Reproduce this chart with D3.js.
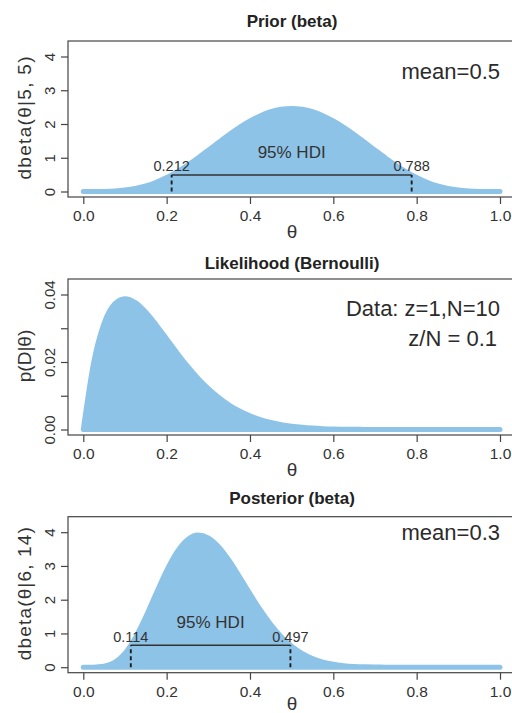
<!DOCTYPE html>
<html><head><meta charset="utf-8">
<script src="https://cdn.jsdelivr.net/npm/d3@7"></script>
<style>
body{margin:0;background:#fff;}
svg{display:block;font-family:"Liberation Sans",Arial,Helvetica,sans-serif;}
</style>
</head><body>
<svg id="chart" width="512" height="713"></svg>
<script>
// ---------------- data ----------------
const theta = [0,0.025,0.05,0.075,0.1,0.125,0.15,0.175,0.2,0.225,0.25,0.275,0.3,0.325,0.35,0.375,0.4,0.425,0.45,0.475,0.5,
  0.525,0.55,0.575,0.6,0.625,0.65,0.675,0.7,0.725,0.75,0.775,0.8,0.825,0.85,0.875,0.9,0.925,0.95,0.975,1];
const priorDensity = [0,0.0002,0.0032,0.0146,0.0413,0.0902,0.1665,0.2737,0.4129,0.5825,0.7787,0.9954,1.2252,1.4591,1.6876,1.9010,2.0902,2.2468,2.3640,2.4364,2.4609,
  2.4364,2.3640,2.2468,2.0902,1.9010,1.6876,1.4591,1.2252,0.9954,0.7787,0.5825,0.4129,0.2737,0.1665,0.0902,0.0413,0.0146,0.0032,0.0002,0];
const likelihood = [0,0.01991,0.03151,0.03718,0.03874,0.03758,0.03474,0.03098,0.02684,0.02269,0.01877,0.01522,0.01211,0.00946,0.00725,0.00546,0.00403,0.00292,0.00207,0.00144,0.00098,
  0.00065,0.00042,0.00026,0.00016,0.00009,0.00005,0.00003,0.00001,0.000007,0.000003,0.000001,0,0,0,0,0,0,0,0,0];
const posteriorDensity = [0,0.0011,0.0261,0.1402,0.4138,0.8756,1.4946,2.1914,2.8638,3.4155,3.7767,3.9145,3.8326,3.5644,3.1611,2.6806,2.1772,1.6954,1.2659,0.9061,0.6210,
  0.4068,0.2542,0.1510,0.0849,0.0450,0.0223,0.0103,0.0044,0.0017,0.0006,0.0002,0.00004,0.00001,0,0,0,0,0,0,0];

const xTicks = [0,0.2,0.4,0.6,0.8,1.0];
const xTickLabels = ["0.0","0.2","0.4","0.6","0.8","1.0"];
const priorYTicks = [0,1,2,3,4];
const priorYTickLabels = ["0","1","2","3","4"];
const likeYTicks = [0,0.01,0.02,0.03,0.04];
const likeYTickLabels = ["0.00","","0.02","","0.04"];
const postYTicks = [0,1,2,3,4];
const postYTickLabels = ["0","1","2","3","4"];

const titles = ["Prior (beta)","Likelihood (Bernoulli)","Posterior (beta)"];
const yLabels = ["dbeta(\u03B8|5, 5)","p(D|\u03B8)","dbeta(\u03B8|6, 14)"];
const xLabel = "\u03B8";

const priorHDI = [0.212,0.788];
const priorHDIHeight = 0.491;
const postHDI = [0.114,0.497];
const postHDIHeight = 0.650;
const hdiText = "95% HDI";

const priorNotes = ["mean=0.5"];
const likeNotes = ["Data: z=1,N=10","z/N = 0.1"];
const postNotes = ["mean=0.3"];

// ---------------- layout ----------------
const svg = d3.select("#chart");
const fillColor = "#8ec3e8";
const boxLeft = 68, boxH = 156;
const x = d3.scaleLinear().domain([0,1]).range([83.3,500]);

const panels = [
  {top:41,  titleY:26.5, xLabY:237.5, values:priorDensity, yMax:4, ticks:priorYTicks, tickLabels:priorYTickLabels,
   yLabel:yLabels[0], yLabelLen:123, hdi:priorHDI, hdiH:priorHDIHeight, notes:priorNotes, noteY:[79], noteX:[500]},
  {top:279, titleY:269, xLabY:476, values:likelihood, yMax:0.04, ticks:likeYTicks, tickLabels:likeYTickLabels,
   yLabel:yLabels[1], yLabelLen:null, hdi:null, notes:likeNotes, noteY:[316,346], noteX:[500,497]},
  {top:516.7, titleY:504, xLabY:710, values:posteriorDensity, yMax:4, ticks:postYTicks, tickLabels:postYTickLabels,
   yLabel:yLabels[2], yLabelLen:133, hdi:postHDI, hdiH:postHDIHeight, notes:postNotes, noteY:[540], noteX:[500]}
];

panels.forEach((p,i) => {
  const y = d3.scaleLinear().domain([0,p.yMax]).range([p.top+150.5, p.top+15.5]);
  const g = svg.append("g");

  // title
  g.append("text").attr("x",292).attr("y",p.titleY).attr("text-anchor","middle")
    .attr("font-size",17).attr("font-weight","bold").attr("fill","#222").text(titles[i]);

  // filled density
  const area = d3.area().x((d,k)=>x(theta[k])).y0(y(0)).y1(d=>y(d)).curve(d3.curveMonotoneX);
  g.append("path").datum(p.values).attr("d",area)
    .attr("fill",fillColor).attr("stroke",fillColor).attr("stroke-width",5)
    .attr("stroke-linejoin","round").attr("stroke-linecap","round");

  // box
  g.append("rect").attr("x",boxLeft).attr("y",p.top).attr("width",470).attr("height",boxH)
    .attr("fill","none").attr("stroke","#444").attr("stroke-width",1.2);

  // x axis
  const xa = g.append("g").attr("transform",`translate(0,${p.top+boxH})`)
    .call(d3.axisBottom(x).tickValues(xTicks).tickFormat((d,k)=>xTickLabels[k]).tickSize(7).tickPadding(6));
  xa.select(".domain").remove();
  xa.selectAll("line").attr("stroke","#444").attr("stroke-width",1.2);
  xa.selectAll("text").attr("font-size",15.5).attr("fill","#333").attr("font-family",null);

  // y axis
  const ya = g.append("g").attr("transform",`translate(${boxLeft},0)`)
    .call(d3.axisLeft(y).tickValues(p.ticks).tickFormat((d,k)=>p.tickLabels[k]).tickSize(7));
  ya.select(".domain").remove();
  ya.selectAll("line").attr("stroke","#444").attr("stroke-width",1.2);
  ya.selectAll("text").attr("x",null).attr("dy",null).attr("text-anchor","middle")
    .attr("transform","translate(-13.5,0) rotate(-90)")
    .attr("font-size",15).attr("fill","#333").attr("font-family",null);

  // axis titles
  g.append("text").attr("text-anchor","middle").attr("font-size",19).attr("fill","#333")
    .attr("transform",`translate(31,${p.top+77}) rotate(-90)`)
    .call(t => { if (p.yLabelLen) t.attr("textLength",p.yLabelLen).attr("lengthAdjust","spacing"); })
    .text(p.yLabel);
  g.append("text").attr("x",292).attr("y",p.xLabY).attr("text-anchor","middle")
    .attr("font-size",19).attr("fill","#333").text(xLabel);

  // HDI
  if (p.hdi) {
    const yh = y(p.hdiH);
    g.append("line").attr("x1",x(p.hdi[0])).attr("x2",x(p.hdi[1])).attr("y1",yh).attr("y2",yh)
      .attr("stroke","#333").attr("stroke-width",1.4);
    p.hdi.forEach(v => {
      g.append("line").attr("x1",x(v)).attr("x2",x(v)).attr("y1",y(0)).attr("y2",yh)
        .attr("stroke","#1f1f1f").attr("stroke-width",1.9).attr("stroke-dasharray","4,3");
      g.append("text").attr("x",x(v)).attr("y",yh-3.5).attr("text-anchor","middle")
        .attr("font-size",14.5).attr("fill","#333").text(v.toFixed(3));
    });
    g.append("text").attr("x",x((p.hdi[0]+p.hdi[1])/2)).attr("y",yh-17.3).attr("text-anchor","middle")
      .attr("font-size",17).attr("fill","#333").text(hdiText);
  }

  // annotations
  p.notes.forEach((n,k) => {
    g.append("text").attr("x",p.noteX[k]).attr("y",p.noteY[k]).attr("text-anchor","end")
      .attr("font-size",22).attr("fill","#2b2b2b").text(n);
  });
});
</script>
</body></html>
